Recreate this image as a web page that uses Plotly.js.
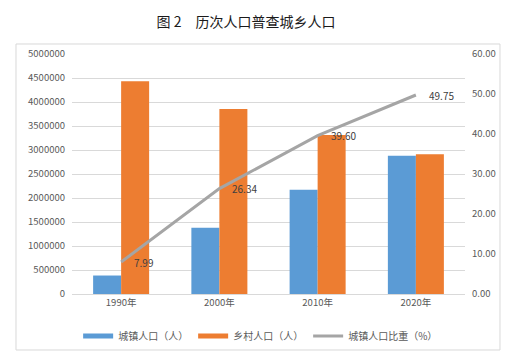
<!DOCTYPE html>
<html>
<head>
<meta charset="utf-8">
<script src="https://cdn.plot.ly/plotly-3.0.1.min.js"></script>
<style>html,body{margin:0;padding:0;background:#fff;}#chart{width:532px;height:364px;}</style>
</head>
<body>
<div id="chart"></div>
<script>
const categories = ['1990年', '2000年', '2010年', '2020年'];
const urbanPop = [385000, 1378000, 2170000, 2880000];
const ruralPop = [4430000, 3854000, 3310000, 2909000];
const urbanShare = [7.99, 26.34, 39.60, 49.75];
const seriesNames = ['城镇人口（人）', '乡村人口（人）', '城镇人口比重（%）'];
const leftTicks = [0, 500000, 1000000, 1500000, 2000000, 2500000, 3000000, 3500000, 4000000, 4500000, 5000000];
const rightTicks = [0, 10, 20, 30, 40, 50, 60];

const FONT = '"Noto Sans CJK SC", "Microsoft YaHei", sans-serif';
const TICKC = '#595959';
const colors = ['#5B9BD5', '#ED7D31', '#A5A5A5'];

const traces = [
  {type: 'bar', x: categories, y: urbanPop, name: seriesNames[0], marker: {color: colors[0]}, showlegend: false, hoverinfo: 'y'},
  {type: 'bar', x: categories, y: ruralPop, name: seriesNames[1], marker: {color: colors[1]}, showlegend: false, hoverinfo: 'y'},
  {type: 'scatter', mode: 'lines', x: [null], y: [null], name: seriesNames[0], line: {color: colors[0], width: 5}, showlegend: true},
  {type: 'scatter', mode: 'lines', x: [null], y: [null], name: seriesNames[1], line: {color: colors[1], width: 5}, showlegend: true},
  {type: 'scatter', mode: 'lines', x: categories, y: urbanShare, yaxis: 'y2', name: seriesNames[2], line: {color: colors[2], width: 3}, showlegend: true}
];

const annotations = categories.map((c, i) => ({
  x: c, y: urbanShare[i], xref: 'x', yref: 'y2',
  text: urbanShare[i].toFixed(2), showarrow: false,
  xanchor: 'left', yanchor: 'middle', xshift: 11, yshift: 0,
  font: {family: FONT, size: 10, color: '#404040'}
}));

const layout = {
  width: 532, height: 364,
  margin: {l: 72, r: 67, t: 54, b: 70},
  paper_bgcolor: '#ffffff', plot_bgcolor: '#ffffff',
  font: {family: FONT, size: 9.5, color: TICKC},
  title: {text: '图 2　历次人口普查城乡人口', xref: 'container', yref: 'container', x: 0.4624, y: 0.94, xanchor: 'center', yanchor: 'middle',
          font: {family: FONT, size: 14, color: '#1a1a1a', weight: 'normal'}},
  barmode: 'group', bargap: 0.43, bargroupgap: 0,
  xaxis: {type: 'category', showgrid: false, showline: true, linecolor: '#D9D9D9', linewidth: 1, ticks: '', tickfont: {size: 9.5, color: TICKC}, fixedrange: true},
  yaxis: {range: [0, 5000000], tickvals: leftTicks, ticktext: leftTicks.map(String), showgrid: true, gridcolor: '#D9D9D9', gridwidth: 1, zeroline: false, showline: false, ticks: '', ticklabelstandoff: 6, tickfont: {size: 9.5, color: TICKC}, fixedrange: true},
  yaxis2: {overlaying: 'y', side: 'right', range: [0, 60], tickvals: rightTicks, ticktext: rightTicks.map(v => v.toFixed(2)), showgrid: false, zeroline: false, showline: false, ticks: '', ticklabelstandoff: 6, tickfont: {size: 9.5, color: TICKC}, fixedrange: true},
  legend: {orientation: 'h', x: 0.48, xanchor: 'center', y: -0.115, yanchor: 'top', font: {size: 10, color: TICKC}, itemwidth: 30, tracegroupgap: 0, bgcolor: 'rgba(0,0,0,0)'},
  annotations: annotations,
  shapes: [{type: 'rect', xref: 'paper', yref: 'paper', x0: -0.1425, x1: 1.089, y0: -0.2333, y1: 1.0417, line: {color: '#D9D9D9', width: 1}, fillcolor: 'rgba(0,0,0,0)', layer: 'below'}],
  showlegend: true
};

Plotly.newPlot('chart', traces, layout, {displayModeBar: false, staticPlot: true});
</script>
</body>
</html>
